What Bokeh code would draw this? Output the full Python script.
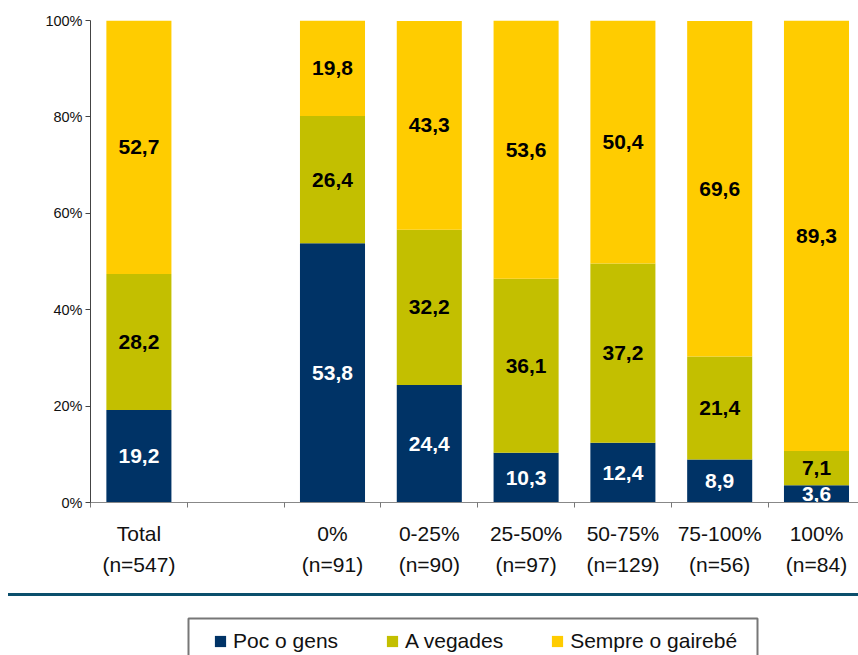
from bokeh.plotting import figure
from bokeh.models import Range1d, FixedTicker, ColumnDataSource, Legend, LegendItem, Div
from bokeh.layouts import column
from bokeh.embed import file_html
from bokeh.resources import INLINE
from bokeh.core.properties import value

# ---- data ----
categories = ["Total", "", "0%", "0-25%", "25-50%", "50-75%", "75-100%", "100%"]
n_counts = ["547", "", "91", "90", "97", "129", "56", "84"]
series_names = ["Poc o gens", "A vegades", "Sempre o gairebé"]
poc_o_gens = [19.2, 0, 53.8, 24.4, 10.3, 12.4, 8.9, 3.6]
a_vegades = [28.2, 0, 26.4, 32.2, 36.1, 37.2, 21.4, 7.1]
sempre = [52.7, 0, 19.8, 43.3, 53.6, 50.4, 69.6, 89.3]
y_ticks = [0, 20, 40, 60, 80, 100]
y_tick_labels = ["0%", "20%", "40%", "60%", "80%", "100%"]

colors = ["#003366", "#C3BF00", "#FFCC00"]
label_colors = ["white", "black", "black"]
TEAL = "#0B4F6C"
FONT = "Liberation Sans"

xs = [i + 0.5 for i in range(len(categories))]
src = ColumnDataSource(dict(x=xs, poc=poc_o_gens, veg=a_vegades, sem=sempre))

p = figure(width=858, height=593, output_backend="svg", toolbar_location=None,
           x_range=Range1d(0, 7.934), y_range=Range1d(0, 100),
           min_border_left=90, min_border_right=0, min_border_top=20, min_border_bottom=91)
p.outline_line_color = None
p.xgrid.visible = False
p.ygrid.visible = False

bars = p.vbar_stack(["poc", "veg", "sem"], x="x", width=0.672, color=colors, source=src, line_color=None)

# value labels
lx, ly, lt, lc = [], [], [], []
for i, cat in enumerate(categories):
    if cat == "":
        continue
    cum = 0
    for vals, col in zip([poc_o_gens, a_vegades, sempre], label_colors):
        v = vals[i]
        lx.append(xs[i]); ly.append(cum + v / 2)
        lt.append(f"{v:.1f}".replace(".", ",")); lc.append(col)
        cum += v
p.text(x=lx, y=ly, text=lt, text_color=lc, text_align="center", text_baseline="middle",
       text_font=value(FONT), text_font_size="21px", text_font_style="bold")

# x axis
xa = p.xaxis[0]
xa.ticker = FixedTicker(ticks=xs, minor_ticks=list(range(len(categories))))
xa.major_label_overrides = {x: (f"{c}\n(n={n})" if c else "") for x, c, n in zip(xs, categories, n_counts)}
xa.major_tick_out = 0
xa.major_tick_in = 0
xa.minor_tick_out = 5
xa.minor_tick_in = 0
xa.minor_tick_line_color = "#777777"
xa.axis_line_color = "#888888"
xa.major_label_standoff = 14
xa.major_label_text_font = FONT
xa.major_label_text_font_size = "21px"
xa.major_label_text_color = "#111111"
xa.major_label_text_line_height = 1.38

# y axis
ya = p.yaxis[0]
ya.ticker = FixedTicker(ticks=y_ticks, minor_ticks=[])
ya.major_label_overrides = {t: l for t, l in zip(y_ticks, y_tick_labels)}
ya.major_tick_out = 5
ya.major_tick_in = 0
ya.major_tick_line_color = "#444444"
ya.axis_line_color = "#444444"
ya.major_label_standoff = 3
ya.major_label_text_font = FONT
ya.major_label_text_font_size = "14.5px"
ya.major_label_text_color = "#111111"

# separator rule
rule = Div(text="", width=850, height=3, margin=(0, 0, 0, 8),
           styles={"background-color": TEAL, "height": "3px",
                   "overflow": "hidden", "padding": "0"})

# legend area
q = figure(width=858, height=59, output_backend="svg", toolbar_location=None,
           x_axis_location=None, y_axis_location=None,
           x_range=Range1d(90, 858), y_range=Range1d(59, 0),
           min_border_left=0, min_border_right=0, min_border_top=0, min_border_bottom=0,
           outline_line_color=None)
q.grid.visible = False
q.quad(left=[188], right=[757], top=[22], bottom=[64], fill_color=None,
       line_color="#777777", line_width=2)
ghost = q.vbar_stack(["poc", "veg", "sem"], x="x", width=0.672, color=colors, source=src,
                     line_color=None, visible=False)
items = [LegendItem(label=name, renderers=[r]) for name, r in zip(series_names, ghost)]
leg = Legend(items=items, orientation="horizontal", location=(123, 2),
             label_text_font=FONT, label_text_font_size="21px", label_text_color="#111111",
             glyph_width=14, glyph_height=14, label_standoff=6, spacing=47,
             padding=0, margin=0, border_line_color=None, background_fill_alpha=0.0,
             inactive_fill_alpha=0.0)
q.add_layout(leg)

layout = column(p, rule, q, spacing=0)
open("out.html", "w").write(file_html(layout, INLINE))
